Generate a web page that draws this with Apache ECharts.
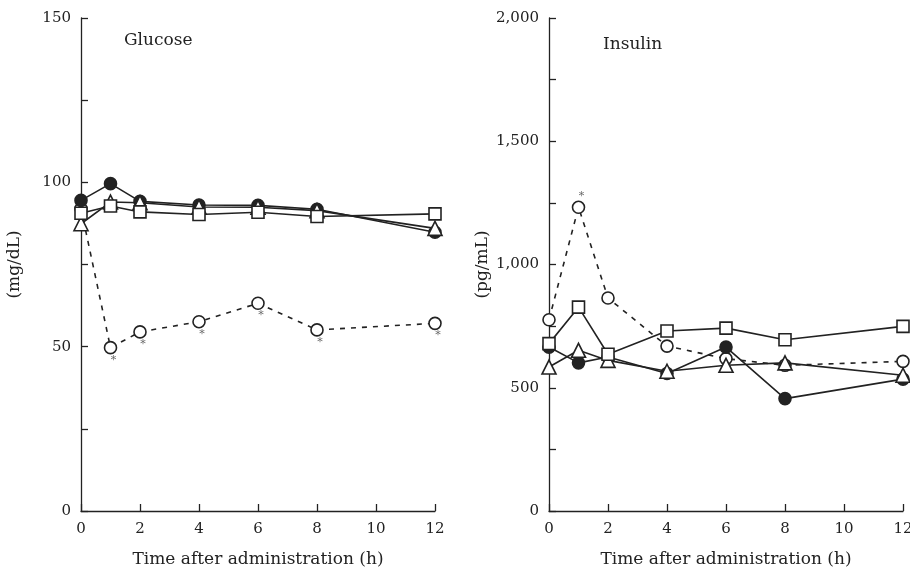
<!DOCTYPE html>
<html>
<head>
<meta charset="utf-8">
<script src="https://cdn.jsdelivr.net/npm/echarts@6/dist/echarts.min.js"></script>
<style>
  html, body { margin: 0; padding: 0; background: #fff; }
  #main { width: 910px; height: 572px; }
</style>
</head>
<body>
<div id="main"></div>
<script>
// time points (h)
var hours = [0, 1, 2, 4, 6, 8, 12];

// glucose (mg/dL)
var gluFilled = [94.5, 99.6, 94.2, 93.1, 93.0, 91.8, 84.8];
var gluSquare = [90.6, 92.8, 91.0, 90.2, 90.9, 89.6, 90.4];
var gluTriangle = [87.4, 94.0, 93.8, 92.5, 92.4, 91.4, 86.0];
var gluOpen = [92.0, 49.7, 54.5, 57.6, 63.2, 55.1, 57.1];
var gluStar = [false, true, true, true, true, true, true];

// insulin (pg/mL)
var insFilled = [665, 601, 625, 558, 665, 456, 535];
var insSquare = [679, 827, 636, 730, 742, 695, 749];
var insTriangle = [584, 652, 611, 567, 591, 601, 551];
var insOpen = [776, 1232, 864, 669, 618, 591, 607];
var insStar = [false, true, false, false, false, false, false];

var ink = '#222';
var font = 'DejaVu Serif';

function pairs(ys, stars, pos) {
  return hours.map(function (h, i) {
    var p = { value: [h, ys[i]] };
    if (stars && stars[i]) {
      p.label = { show: true, position: pos, formatter: '*', distance: 1, offset: [3, pos === 'top' ? 2 : -1] };
    }
    return p;
  });
}

function series(idx, ys, symbol, size, fill, dashed, stars, pos) {
  return {
    type: 'line',
    xAxisIndex: idx,
    yAxisIndex: idx,
    data: pairs(ys, stars, pos),
    symbol: symbol,
    symbolSize: size,
    showAllSymbol: true,
    animation: false,
    lineStyle: { color: ink, width: 1.6, type: dashed ? [5, 6] : 'solid' },
    itemStyle: { color: fill, borderColor: ink, borderWidth: 1.6 },
    label: { color: '#666', fontSize: 11, fontFamily: font },
    z: dashed ? 1 : 2
  };
}

var chart = echarts.init(document.getElementById('main'));

function xAxis(gi) {
  return {
    type: 'value', gridIndex: gi, min: 0, max: 12, interval: 2,
    name: 'Time after administration (h)', nameLocation: 'middle', nameGap: 40,
    nameTextStyle: { color: ink, fontSize: 17, fontFamily: font },
    axisLine: { lineStyle: { color: ink, width: 1.3 } },
    axisTick: { inside: true, length: 7, lineStyle: { color: ink, width: 1.3 } },
    axisLabel: { color: ink, fontSize: 15, fontFamily: font, margin: 11 },
    splitLine: { show: false }
  };
}

function yAxis(gi, max, interval, step, name, fmt) {
  return {
    type: 'value', gridIndex: gi, min: 0, max: max, interval: interval,
    name: name, nameLocation: 'middle', nameGap: 58, nameRotate: 90,
    nameTextStyle: { color: ink, fontSize: 17, fontFamily: font },
    axisLine: { show: true, lineStyle: { color: ink, width: 1.3 } },
    axisTick: { show: true, inside: true, length: 7, lineStyle: { color: ink, width: 1.3 } },
    axisLabel: {
      color: ink, fontSize: 15, fontFamily: font, margin: 10,
      formatter: function (v) { return v % step === 0 ? fmt(v) : ''; }
    },
    splitLine: { show: false }
  };
}

chart.setOption({
  backgroundColor: '#fff',
  title: [
    { text: 'Glucose', left: 119, top: 27, textStyle: { color: ink, fontSize: 17, fontWeight: 'normal', fontFamily: font } },
    { text: 'Insulin', left: 598, top: 31, textStyle: { color: ink, fontSize: 17, fontWeight: 'normal', fontFamily: font } }
  ],
  grid: [
    { left: 81, right: 475, top: 18, bottom: 61, containLabel: false, outerBoundsMode: 'none' },
    { left: 549, right: 7, top: 18, bottom: 61, containLabel: false, outerBoundsMode: 'none' }
  ],
  xAxis: [xAxis(0), xAxis(1)],
  yAxis: [
    yAxis(0, 150, 25, 50, '(mg/dL)', function (v) { return String(v); }),
    yAxis(1, 2000, 250, 500, '(pg/mL)', function (v) { return v.toLocaleString('en-US'); })
  ],
  series: [
    series(0, gluOpen, 'circle', 12, '#fff', true, gluStar, 'bottom'),
    series(0, gluFilled, 'circle', 12, ink, false),
    series(0, gluTriangle, 'triangle', 14, '#fff', false),
    series(0, gluSquare, 'rect', 12, '#fff', false),
    series(1, insOpen, 'circle', 12, '#fff', true, insStar, 'top'),
    series(1, insFilled, 'circle', 12, ink, false),
    series(1, insTriangle, 'triangle', 14, '#fff', false),
    series(1, insSquare, 'rect', 12, '#fff', false)
  ]
});
</script>
</body>
</html>
